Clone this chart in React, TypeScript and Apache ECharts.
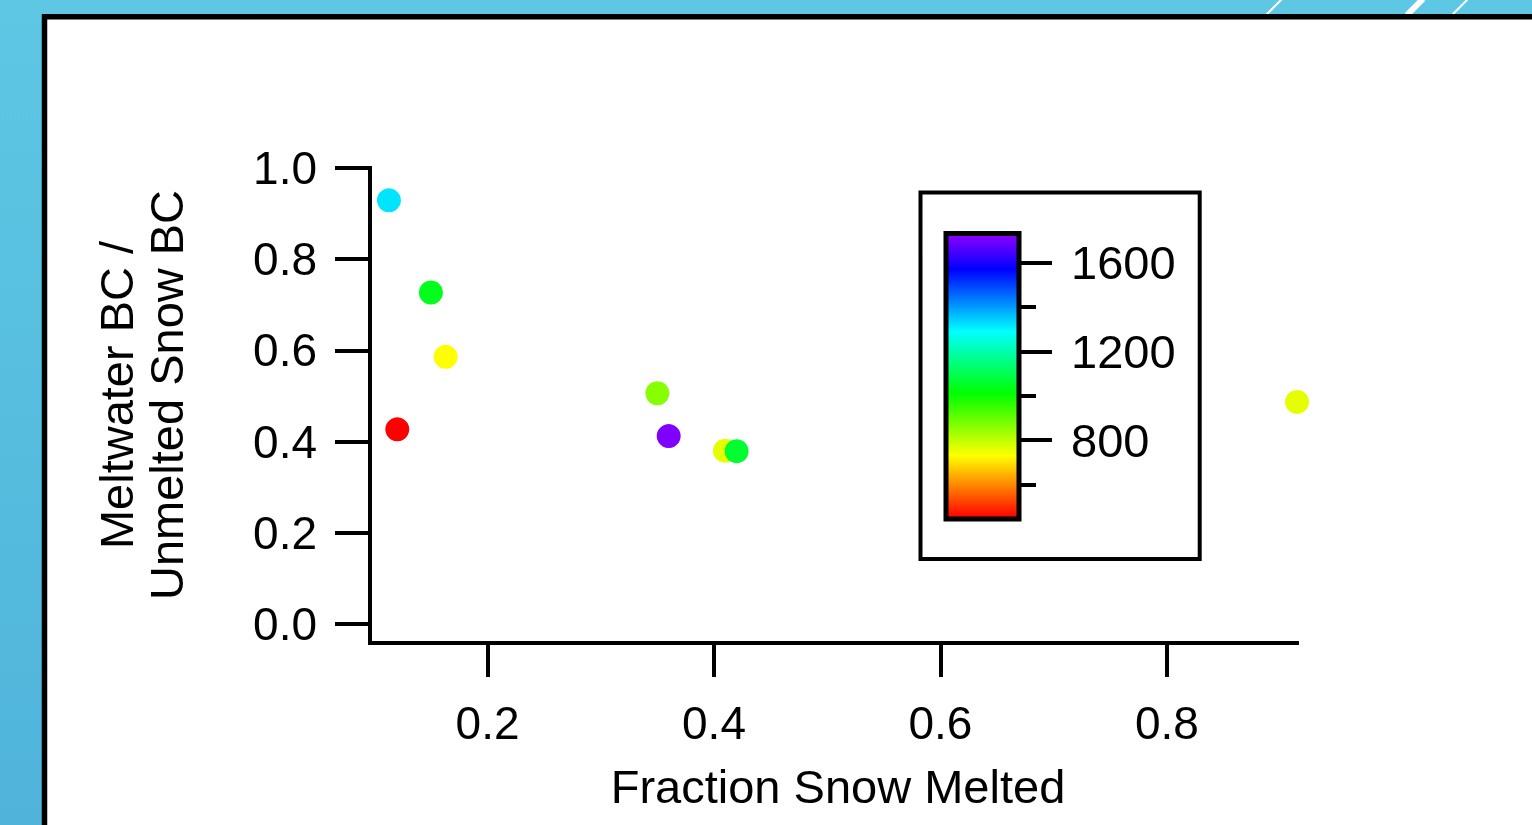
import React, { useEffect, useRef } from 'react';
import * as echarts from 'echarts';

// ---- data ----
const fractionMelted = [0.1129, 0.150, 0.163, 0.1203, 0.350, 0.360, 0.4097, 0.420, 0.9149];
const bcRatio = [0.929, 0.727, 0.586, 0.427, 0.506, 0.412, 0.380, 0.379, 0.487];
const colorValue = [1318, 1038, 730, 440, 861, 1710, 758, 1063, 758];

const xTickValues = [0.2, 0.4, 0.6, 0.8];
const yTickValues = [0, 0.2, 0.4, 0.6, 0.8, 1.0];
const cbMajorTicks = [800, 1200, 1600];
const cbMinorTicks = [600, 1000, 1400];

const palette = ['#FF0000', '#FFFF00', '#00FF00', '#00FFFF', '#0000FF', '#FF00FF'];
const colorMin = 450;
const colorMax = 1850;
const cbMin = 444.5;
const cbMax = 1731.7;

const xTitle = 'Fraction Snow Melted';
const yTitleLines = ['Meltwater BC /', 'Unmelted Snow BC'];

const FONT = '"Liberation Sans", Arial, Helvetica, sans-serif';

function hexToRgb(h: string) {
  const n = parseInt(h.slice(1), 16);
  return [(n >> 16) & 255, (n >> 8) & 255, n & 255];
}
function colorAt(v: number) {
  let t = (v - colorMin) / (colorMax - colorMin);
  t = Math.max(0, Math.min(1, t));
  const seg = t * (palette.length - 1);
  const i = Math.min(Math.floor(seg), palette.length - 2);
  const f = seg - i;
  const a = hexToRgb(palette[i]);
  const b = hexToRgb(palette[i + 1]);
  const c = a.map((x, k) => Math.round(x + (b[k] - x) * f));
  return `rgb(${c[0]},${c[1]},${c[2]})`;
}
function colorbarGradient() {
  const vals: number[] = [cbMax];
  palette.forEach((_, i) => {
    const v = colorMin + (i / (palette.length - 1)) * (colorMax - colorMin);
    if (v < cbMax && v > cbMin) vals.push(v);
  });
  vals.push(cbMin);
  vals.sort((a, b) => b - a);
  return {
    type: 'linear', x: 0, y: 0, x2: 0, y2: 1,
    colorStops: vals.map((v) => ({ offset: (cbMax - v) / (cbMax - cbMin), color: colorAt(v) })),
  };
}

export default function App() {
  const ref = useRef<HTMLDivElement>(null);
  useEffect(() => {
    const chart = echarts.init(ref.current!, null, { renderer: 'svg', width: 1532, height: 825 });
    const black = '#000';
    const cbRect = { left: 946, top: 233.5, width: 73, height: 285.5 };
    const option: any = {
      animation: false,
      graphic: [
        {
          type: 'rect', z: -30, silent: true,
          shape: { x: 0, y: 0, width: 1532, height: 825 },
          style: {
            fill: new echarts.graphic.LinearGradient(0, 0, 0, 1, [
              { offset: 0, color: '#5DC7E4' },
              { offset: 1, color: '#50B4DA' },
            ]),
          },
        },
        { type: 'line', z: -25, silent: true, shape: { x1: 1266, y1: 15, x2: 1282, y2: -1 }, style: { stroke: '#fff', lineWidth: 2 } },
        { type: 'line', z: -25, silent: true, shape: { x1: 1407, y1: 15, x2: 1423, y2: -1 }, style: { stroke: '#fff', lineWidth: 6 } },
        { type: 'line', z: -25, silent: true, shape: { x1: 1452, y1: 15, x2: 1468, y2: -1 }, style: { stroke: '#fff', lineWidth: 2 } },
        {
          type: 'rect', z: -20, silent: true,
          shape: { x: 44.5, y: 16.7, width: 1600, height: 900 },
          style: { fill: '#fff', stroke: black, lineWidth: 5.5 },
        },
        {
          type: 'rect', z: -10, silent: true,
          shape: { x: 920.5, y: 192.5, width: 279.2, height: 366.5 },
          style: { fill: '#fff', stroke: black, lineWidth: 4 },
        },
        {
          type: 'text', x: 116.5, y: 395, rotation: Math.PI / 2,
          style: { text: yTitleLines[0], fontSize: 47, fontFamily: FONT, fill: black, align: 'center', verticalAlign: 'middle' },
        },
        {
          type: 'text', x: 166.5, y: 395, rotation: Math.PI / 2,
          style: { text: yTitleLines[1], fontSize: 47, fontFamily: FONT, fill: black, align: 'center', verticalAlign: 'middle' },
        },
        {
          type: 'text', x: 838, y: 786,
          style: { text: xTitle, fontSize: 47, fontFamily: FONT, fill: black, align: 'center', verticalAlign: 'middle' },
        },
      ],
      grid: [
        { left: 370, top: 168, width: 927, height: 475, show: false },
        {
          ...cbRect, show: true,
          backgroundColor: colorbarGradient(), borderColor: black, borderWidth: 5,
        },
        { ...cbRect, show: false },
      ],
      xAxis: [
        {
          type: 'value', gridIndex: 0, min: 0.0962, max: 0.9149,
          axisLine: { show: true, onZero: false, lineStyle: { color: black, width: 4, cap: 'square' } },
          axisTick: { show: true, inside: false, length: 34, lineStyle: { color: black, width: 4 }, customValues: xTickValues },
          axisLabel: {
            show: true, customValues: xTickValues, margin: 57, fontSize: 46, fontFamily: FONT, color: black,
            formatter: (v: number) => v.toFixed(1),
          },
          splitLine: { show: false },
        },
        { type: 'value', gridIndex: 1, min: 0, max: 1, show: false },
        { type: 'value', gridIndex: 2, min: 0, max: 1, show: false },
      ],
      yAxis: [
        {
          type: 'value', gridIndex: 0, position: 'left', min: -0.0417, max: 1.0,
          axisLine: { show: true, onZero: false, lineStyle: { color: black, width: 4, cap: 'square' } },
          axisTick: { show: true, inside: false, length: 35, lineStyle: { color: black, width: 4 }, customValues: yTickValues },
          axisLabel: {
            show: true, customValues: yTickValues, margin: 53, fontSize: 46, fontFamily: FONT, color: black,
            formatter: (v: number) => v.toFixed(1),
          },
          splitLine: { show: false },
        },
        {
          type: 'value', gridIndex: 1, position: 'right', min: cbMin, max: cbMax,
          axisLine: { show: false, onZero: false },
          axisTick: { show: true, inside: false, length: 33, lineStyle: { color: black, width: 4 }, customValues: cbMajorTicks },
          axisLabel: {
            show: true, customValues: cbMajorTicks, margin: 52, fontSize: 47, fontFamily: FONT, color: black,
            formatter: (v: number) => String(v),
          },
          splitLine: { show: false },
        },
        {
          type: 'value', gridIndex: 2, position: 'right', min: cbMin, max: cbMax,
          axisLine: { show: false, onZero: false },
          axisTick: { show: true, inside: false, length: 17, lineStyle: { color: black, width: 4 }, customValues: cbMinorTicks },
          axisLabel: { show: false },
          splitLine: { show: false },
        },
      ],
      visualMap: [
        {
          type: 'continuous', show: false, seriesIndex: 0, dimension: 2,
          min: colorMin, max: colorMax, inRange: { color: palette },
        },
      ],
      series: [
        {
          type: 'scatter', xAxisIndex: 0, yAxisIndex: 0, clip: false,
          symbol: 'circle', symbolSize: 24,
          data: fractionMelted.map((x, i) => [x, bcRatio[i], colorValue[i]]),
          itemStyle: { opacity: 1 },
        },
      ],
    };
    chart.setOption(option);
    return () => chart.dispose();
  }, []);
  return <div ref={ref} style={{ position: 'fixed', left: 0, top: 0, width: 1532, height: 825 }} />;
}
